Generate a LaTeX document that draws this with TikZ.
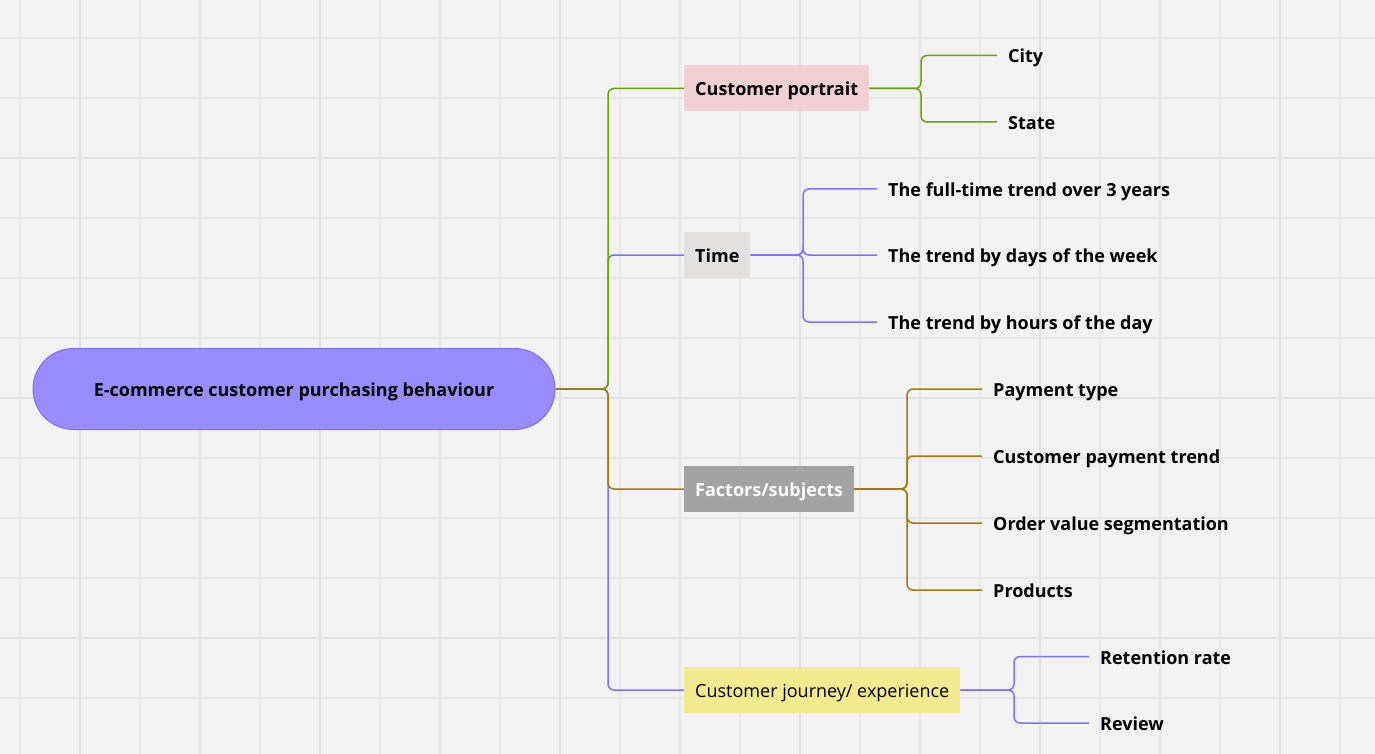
\documentclass[tikz,border=0pt]{standalone}
\usepackage{fontspec}
\setmainfont{Open Sans}
\usetikzlibrary{positioning}
\usetikzlibrary{shapes}

\definecolor{paper}{RGB}{242,242,242}
\definecolor{gridc}{RGB}{232,232,232}
\definecolor{gridd}{RGB}{226,226,226}
\definecolor{rootfill}{RGB}{153,140,255}
\definecolor{rootline}{RGB}{125,110,245}
\definecolor{lpurple}{RGB}{128,112,255}
\definecolor{lgreen}{RGB}{108,162,8}
\definecolor{lbrown}{RGB}{162,122,12}
\definecolor{pinkfill}{RGB}{240,208,211}
\definecolor{greyfill}{RGB}{226,225,224}
\definecolor{darkfill}{RGB}{163,163,163}
\definecolor{yellowfill}{RGB}{243,233,142}

\begin{document}
\begin{tikzpicture}[x=1pt,y=-1pt,
  txt/.style={font=\fontsize{18}{22}\selectfont\bfseries, text height=15, text depth=0},
  topic/.style={txt, anchor=west, minimum height=46, inner xsep=11, inner ysep=0},
  leaf/.style={txt, anchor=west, inner xsep=11, inner ysep=0},
  edge/.style={line width=1.5, rounded corners=6}]
  \fill[paper] (0,0) rectangle (1375,754);
  \useasboundingbox (0,0) rectangle (1375,754);
  % grid
  \foreach \x in {20,80,...,1370} \draw[gridc, line width=1.2] (\x,0) -- (\x,754);
  \foreach \y in {38,98,...,750} \draw[gridc, line width=1.2] (0,\y) -- (1375,\y);
  \foreach \x in {80,320,...,1370} \draw[gridd, line width=1.6] (\x,0) -- (\x,754);
  \foreach \y in {158,398,638} \draw[gridd, line width=1.6] (0,\y) -- (1375,\y);

  \node[txt, fill=rootfill, draw=rootline, line width=1, rounded corners=40.5,
    minimum width=522, minimum height=81, inner sep=0] (root) at (294,389)
    {E-commerce customer purchasing behaviour};
  \coordinate (trunk) at (608,389);
  \coordinate (pb) at (921,0);
  \coordinate (tb) at (803,0);
  \coordinate (fb) at (907,0);
  \coordinate (jb) at (1014,0);

  \node[topic, fill=pinkfill] (portrait) at (684,88.5) {Customer portrait};
  \node[topic, fill=greyfill] (time) at (684,255) {Time};
  \node[topic, fill=darkfill, text=white] (factors) at (684,489) {Factors/subjects};
  \node[topic, fill=yellowfill, font=\fontsize{18}{22}\selectfont\mdseries] (journey) at (684,690) {Customer journey/ experience};

  \node[leaf] (city) at (997,55.5) {City};
  \node[leaf] (state) at (997,122) {State};
  \node[leaf] (fulltime) at (877,189) {The full-time trend over 3 years};
  \node[leaf] (weekdays) at (877,255) {The trend by days of the week};
  \node[leaf] (hours) at (877,322) {The trend by hours of the day};
  \node[leaf] (paytype) at (982,389) {Payment type};
  \node[leaf] (paytrend) at (982,456) {Customer payment trend};
  \node[leaf] (ordervalue) at (982,523) {Order value segmentation};
  \node[leaf] (products) at (982,590) {Products};
  \node[leaf] (retention) at (1089,656.5) {Retention rate};
  \node[leaf] (review) at (1089,723) {Review};

  % main branches
  \draw[edge, lpurple] (root.east) -- (trunk) |- (journey.west);
  \draw[edge, lpurple] (root.east) -- (trunk) |- (time.west);
  \draw[edge, lgreen] (root.east) -- (trunk) |- (portrait.west);
  \draw[edge, lbrown] (root.east) -- (trunk) |- (factors.west);

  % sub branches
  \foreach \n in {city,state}
    \draw[edge, lgreen] (portrait.east) -- (portrait.east -| pb) |- (\n.west);
  \foreach \n in {fulltime,weekdays,hours}
    \draw[edge, lpurple] (time.east) -- (time.east -| tb) |- (\n.west);
  \foreach \n in {paytype,paytrend,ordervalue,products}
    \draw[edge, lbrown] (factors.east) -- (factors.east -| fb) |- (\n.west);
  \foreach \n in {retention,review}
    \draw[edge, lpurple] (journey.east) -- (journey.east -| jb) |- (\n.west);
\end{tikzpicture}
\end{document}
